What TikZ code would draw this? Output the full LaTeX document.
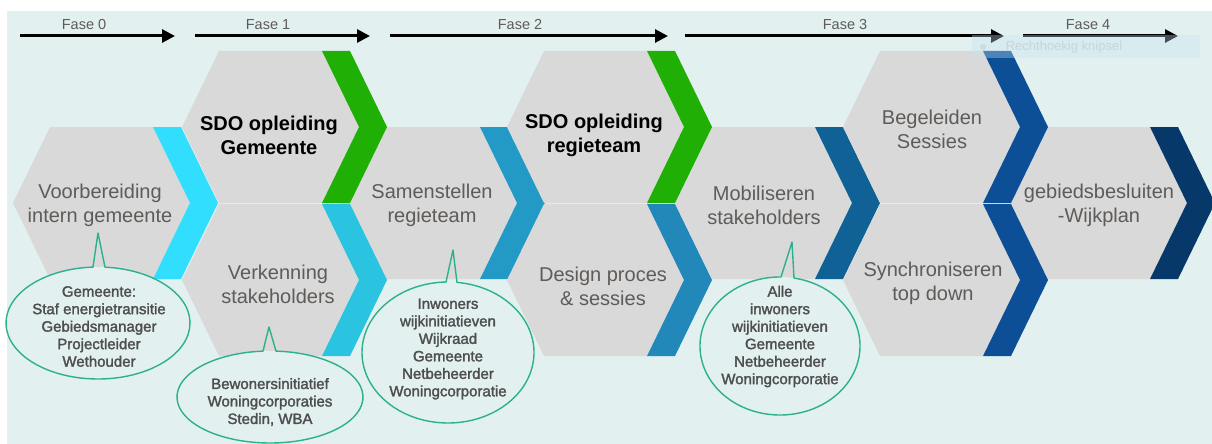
\documentclass[tikz,border=0pt]{standalone}
\usepackage{fontspec}
\setmainfont{Liberation Sans}
\newfontfamily\callfont[FakeBold=1.8]{Liberation Sans}
\usetikzlibrary{arrows.meta}
\definecolor{bgc}{HTML}{E2F0F0}
\definecolor{hexgray}{HTML}{D9D9D9}
\definecolor{hextext}{HTML}{5E5B59}
\definecolor{calltxt}{HTML}{4E4E4E}
\definecolor{callc}{HTML}{2DB08C}
\definecolor{bandA}{HTML}{31DEFD}
\definecolor{bandG}{HTML}{1FAF05}
\definecolor{bandB}{HTML}{2AC3E0}
\definecolor{bandC}{HTML}{239AC5}
\definecolor{bandD}{HTML}{2288BA}
\definecolor{bandE}{HTML}{0F6196}
\definecolor{bandF}{HTML}{0C4F97}
\definecolor{bandH}{HTML}{07386A}
\tikzset{
  hexlabel/.style={align=center, text=hextext, font=\fontsize{20}{24}\selectfont, inner sep=0pt},
  hexbold/.style={align=center, text=black, font=\fontsize{20}{24}\selectfont\bfseries, inner sep=0pt},
  calltext/.style={align=center, text=calltxt, font=\callfont\fontsize{15}{17.5}\selectfont, inner sep=0pt},
  faselabel/.style={text=hextext, font=\fontsize{14.5}{16}\selectfont, inner sep=0pt},
  fasearrow/.style={line width=3pt, -{Triangle[length=13pt,width=13pt]}},
  callline/.style={draw=callc, line width=1.4pt, line join=round},
}
\newcommand\hexa[3]{%
  \fill[hexgray] (#1,#2) -- ++(37,-76) -- ++(103,0) -- ++(37,76) -- ++(-37,76) -- ++(-103,0) -- cycle;
  \fill[#3] (#1+140,#2-76) -- ++(28,0) -- ++(37,76) -- ++(-37,76) -- ++(-28,0) -- ++(37,-76) -- cycle;
}
\newcommand\callout[8]{%
  \fill[bgc] (#1,#2) ellipse [x radius=#3, y radius=#4];
  \draw[callline] (#1,#2) ++({-acos((#6-#1)/#3)}:#3 and #4)
     arc[start angle={-acos((#6-#1)/#3)}, end angle={360-acos((#5-#1)/#3)}, x radius=#3, y radius=#4]
     -- (#7,#8) -- cycle;
}
\begin{document}
\begin{tikzpicture}[x=1pt,y=-1pt]
\useasboundingbox (0,0) rectangle (1212,444);
\fill[white] (0,0) rectangle (1212,444);
\fill[bgc] (7,11) rectangle (1212,444);

% phase arrows
\coordinate (a0s) at (20,36);  \coordinate (a0e) at (175,36);
\coordinate (a1s) at (195,36); \coordinate (a1e) at (370,36);
\coordinate (a2s) at (390,36); \coordinate (a2e) at (668,36);
\coordinate (a3s) at (685,36); \coordinate (a3e) at (1004,36);
\coordinate (a4s) at (1023,36); \coordinate (a4e) at (1178,36);
\draw[fasearrow] (a0s) -- (a0e);
\draw[fasearrow] (a1s) -- (a1e);
\draw[fasearrow] (a2s) -- (a2e);
\draw[fasearrow] (a3s) -- (a3e);
\draw[fasearrow] (a4s) -- (a4e);
\node[faselabel] (f0) at (84,25) {Fase 0};
\node[faselabel] (f1) at (268,25) {Fase 1};
\node[faselabel] (f2) at (520,25) {Fase 2};
\node[faselabel] (f3) at (845,25) {Fase 3};
\node[faselabel] (f4) at (1088,25) {Fase 4};

% hexagons: middle row first
\hexa{13}{203}{bandA}
\hexa{340}{203}{bandC}
\hexa{675}{203}{bandE}
\hexa{1010}{203}{bandH}
% top row
\hexa{182}{127}{bandG}
\hexa{507}{127}{bandG}
\hexa{843}{127}{bandF}
% bottom row
\hexa{182}{280}{bandB}
\hexa{507}{280}{bandD}
\hexa{843}{280}{bandF}

% hex labels
\node[hexlabel] (t1) at (100,205) {Voorbereiding\\intern gemeente};
\node[hexbold]  (t2) at (269,135) {SDO opleiding\\Gemeente};
\node[hexlabel] (t3) at (278,284) {Verkenning\\stakeholders};
\node[hexlabel] (t4) at (432,205) {Samenstellen\\regieteam};
\node[hexbold]  (t5) at (594,135) {SDO opleiding\\regieteam};
\node[hexlabel] (t6) at (603,286) {Design proces\\\& sessies};
\node[hexlabel] (t7) at (764,205) {Mobiliseren\\stakeholders};
\node[hexlabel] (t8) at (932,129) {Begeleiden\\Sessies};
\node[hexlabel] (t9) at (933,283) {Synchroniseren\\top down};
\node[hexlabel] (t10) at (1099,205) {gebiedsbesluiten\\-Wijkplan};

% callouts
\callout{98}{323}{92}{56}{93}{105}{98}{233}
\callout{270}{397}{93}{46}{263}{276}{269}{327}
\callout{448}{352.5}{86}{70.5}{446}{457}{453}{250}
\callout{780}{346}{80}{69}{781}{794}{792}{242}

\node[calltext] (c1) at (99,326.5) {Gemeente:\\Staf energietransitie\\Gebiedsmanager\\Projectleider\\Wethouder};
\node[calltext] (c2) at (270,402) {Bewonersinitiatief\\Woningcorporaties\\Stedin, WBA};
\node[calltext] (c3) at (448,349) {Inwoners\\wijkinitiatieven\\Wijkraad\\Gemeente\\Netbeheerder\\Woningcorporatie};
\node[calltext] (c4) at (780,336.5) {Alle\\inwoners\\wijkinitiatieven\\Gemeente\\Netbeheerder\\Woningcorporatie};

% faint screenshot overlay
\fill[fill={rgb,255:red,200;green,228;blue,242}, opacity=0.35] (972,35) rectangle (1200,58);
\fill[fill={rgb,255:red,205;green,218;blue,222}] (983,47) circle (3);
\node[text={rgb,255:red,200;green,213;blue,218}, font=\fontsize{13}{15}\selectfont, inner sep=0pt] (snip) at (1064,47) {Rechthoekig knipsel};
\end{tikzpicture}
\end{document}
